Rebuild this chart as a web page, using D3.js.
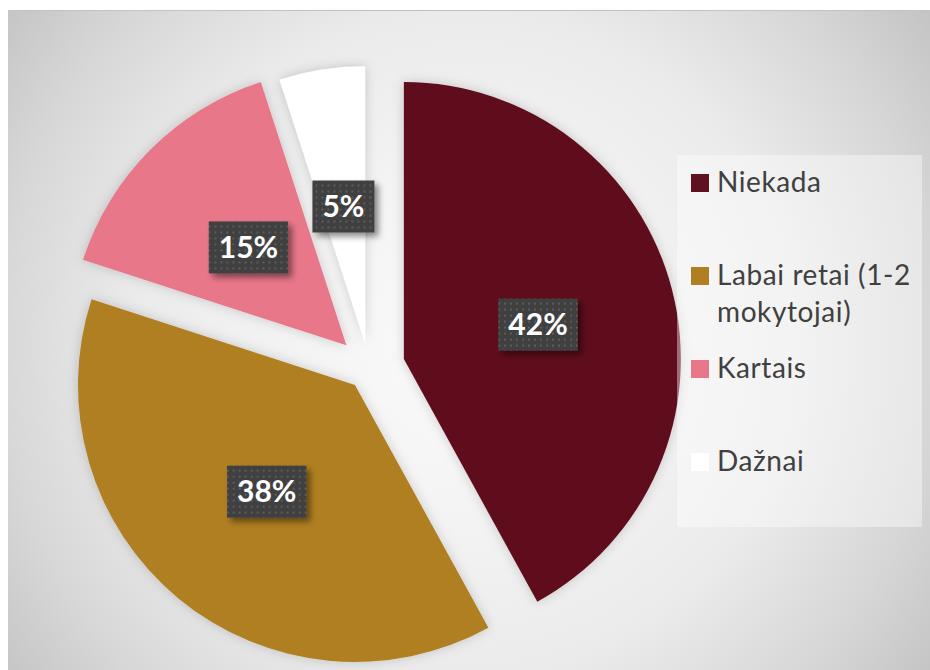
<!DOCTYPE html>
<html>
<head>
<meta charset="utf-8">
<script src="https://cdn.jsdelivr.net/npm/d3@7"></script>
<style>
	body { margin: 0; background: #fff; }
	svg { display: block; }
</style>
</head>
<body>
<script>
// chart data
const categories = ['Niekada', 'Labai retai (1-2 mokytojai)', 'Kartais', 'Dažnai'];
const values = [42, 38, 15, 5];
const valueLabels = ['42%', '38%', '15%', '5%'];
const legendLines = [['Niekada'], ['Labai retai (1-2', 'mokytojai)'], ['Kartais'], ['Dažnai']];

const colors = ['#5f111f', '#b07f21', '#e8778a', '#ffffff'];
const explode = [36, 22, 32, 25];

var svgSize = {'width' : 930, 'height' : 670};
var center = {'x' : 369, 'y' : 368};
var radius = 277;

var svg = d3.select('body').append('svg')
	.attr('width', svgSize.width)
	.attr('height', svgSize.height);

var defs = svg.append('defs');

var grad = defs.append('radialGradient')
	.attr('id', 'bg')
	.attr('gradientUnits', 'userSpaceOnUse')
	.attr('cx', 465).attr('cy', 345).attr('r', 600);
[[0, '#fbfbfb'], [0.3, '#f3f3f3'], [0.55, '#ebebeb'], [0.78, '#d7d7d7'], [1, '#bfbfbf']]
	.forEach(s => grad.append('stop').attr('offset', s[0]).attr('stop-color', s[1]));

var dots = defs.append('pattern')
	.attr('id', 'dots')
	.attr('patternUnits', 'userSpaceOnUse')
	.attr('width', 6).attr('height', 6);
dots.append('rect').attr('width', 6).attr('height', 6).attr('fill', '#404040');
dots.append('rect').attr('x', 2).attr('y', 2).attr('width', 2).attr('height', 2).attr('fill', '#5c5c5c');

defs.append('filter').attr('id', 'sliceShadow')
	.attr('x', '-20%').attr('y', '-20%').attr('width', '140%').attr('height', '140%')
	.append('feDropShadow')
	.attr('dx', 0).attr('dy', 0).attr('stdDeviation', 6)
	.attr('flood-color', '#000').attr('flood-opacity', 0.18);

defs.append('filter').attr('id', 'labelShadow')
	.attr('x', '-30%').attr('y', '-30%').attr('width', '170%').attr('height', '170%')
	.append('feDropShadow')
	.attr('dx', 4).attr('dy', 4).attr('stdDeviation', 3)
	.attr('flood-color', '#000').attr('flood-opacity', 0.45);

// background
svg.append('rect')
	.attr('x', 8).attr('y', 10)
	.attr('width', svgSize.width - 8).attr('height', svgSize.height - 10)
	.attr('fill', 'url(#bg)');
svg.append('line')
	.attr('x1', 8).attr('x2', svgSize.width).attr('y1', 10.5).attr('y2', 10.5)
	.attr('stroke', '#c2c2c2').attr('stroke-width', 1);

var pie = d3.pie().sort(null).value(d => d);
var arcs = pie(values);
var arc = d3.arc().innerRadius(0).outerRadius(radius);

function offset(d, i) {
	var a = (d.startAngle + d.endAngle) / 2;
	return [Math.sin(a) * explode[i], -Math.cos(a) * explode[i]];
}

var pieG = svg.append('g')
	.attr('transform', `translate(${center.x}, ${center.y})`);

pieG.selectAll('path')
	.data(arcs)
	.enter()
	.append('path')
	.attr('class', 'slice')
	.attr('d', arc)
	.attr('fill', (d, i) => colors[i])
	.attr('filter', 'url(#sliceShadow)')
	.attr('transform', (d, i) => `translate(${offset(d, i)})`);

// data labels
var labelG = pieG.selectAll('g.label')
	.data(arcs)
	.enter()
	.append('g')
	.attr('class', 'label')
	.attr('transform', (d, i) => {
		var o = offset(d, i);
		var c = arc.centroid(d);
		return `translate(${c[0] + o[0]}, ${c[1] + o[1]})`;
	});

labelG.append('rect')
	.attr('fill', 'url(#dots)')
	.attr('filter', 'url(#labelShadow)');

labelG.append('text')
	.attr('text-anchor', 'middle')
	.attr('dy', '0.36em')
	.style('font-family', 'Lato, "Open Sans", sans-serif')
	.style('font-weight', 'bold')
	.style('font-size', '30px')
	.attr('fill', '#ffffff')
	.text((d, i) => valueLabels[i]);

labelG.each(function() {
	var g = d3.select(this);
	var bb = g.select('text').node().getBBox();
	var w = bb.width + 20;
	var h = 52;
	g.select('rect')
		.attr('x', -w / 2).attr('y', -h / 2)
		.attr('width', w).attr('height', h);
});

// legend
var legend = svg.append('g').attr('id', 'legend');
legend.append('rect')
	.attr('x', 677).attr('y', 155)
	.attr('width', 245).attr('height', 372)
	.attr('fill', '#ffffff').attr('fill-opacity', 0.4);

var itemY = [183, 276, 369, 462];

var items = legend.selectAll('g.item')
	.data(categories)
	.enter()
	.append('g')
	.attr('class', 'item')
	.attr('transform', (d, i) => `translate(691, ${itemY[i]})`);

items.append('rect')
	.attr('x', 0).attr('y', -9)
	.attr('width', 18).attr('height', 18)
	.attr('fill', (d, i) => colors[i]);

items.append('text')
	.attr('x', 26)
	.attr('y', 9)
	.style('font-family', 'Lato, "Open Sans", sans-serif')
	.style('font-size', '28px')
	.style('letter-spacing', '0.6px')
	.attr('fill', '#404040')
	.each(function(d, i) {
		var t = d3.select(this);
		legendLines[i].forEach((line, j) => {
			t.append('tspan')
				.attr('x', 26)
				.attr('dy', j === 0 ? 0 : 37)
				.text(line);
		});
	});
</script>
</body>
</html>
